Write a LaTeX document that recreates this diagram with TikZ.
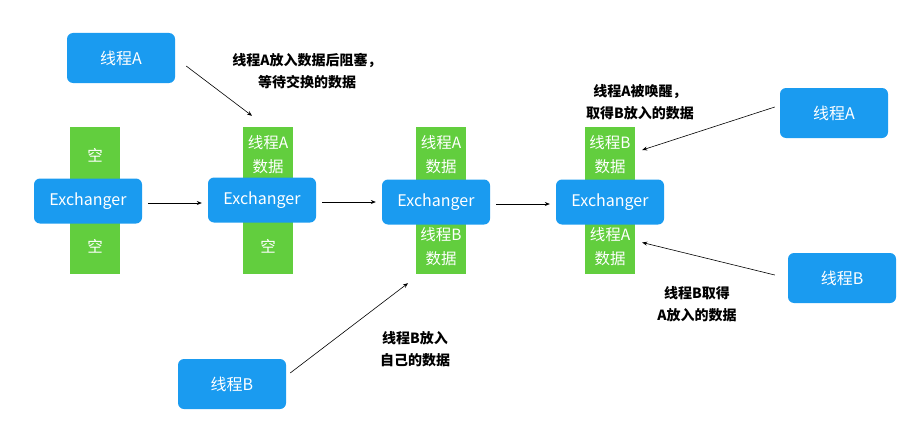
\documentclass[tikz,border=0pt]{standalone}
\usepackage{fontspec}
\newfontfamily\cjk{Noto Sans CJK SC}
\usetikzlibrary{arrows.meta}
\definecolor{myblue}{RGB}{26,155,240}
\definecolor{mygreen}{RGB}{98,206,62}
\begin{document}
\begin{tikzpicture}[x=1pt, y=-1pt,
        myexch/.style={shape=rectangle, rounded corners=6pt, fill=myblue, text=white,
            minimum width=108pt, minimum height=45pt, font=\cjk\fontsize{16}{18}\selectfont},
        mythread/.style={myexch, minimum height=50pt},
        mydata/.style={shape=rectangle, fill=mygreen, text=white, align=center,
            minimum width=50pt, minimum height=56pt, inner sep=0pt,
            font=\cjk\fontsize{15.5}{24}\selectfont},
        mynote/.style={align=center, font=\cjk\bfseries\fontsize{14}{22}\selectfont},
        myarrow/.style={-{Stealth[length=5pt,width=4pt]}, line width=0.6pt}
    ]
    \useasboundingbox (0,0) rectangle (915,428);
    % four exchangers with their slots
    \foreach \myx/\mydx/\myy/\mytop/\mybot [count=\myi] in
        {88/7/201/空/空, 262/6/200/{线程A\\数据}/空,
         436/5/202/{线程A\\数据}/{线程B\\数据}, 610/0/202/{线程B\\数据}/{线程A\\数据}} {
        \node [mydata] (dt\myi) at (\myx+\mydx,155) {\mytop};
        \node [mydata, minimum height=55pt] (db\myi) at (\myx+\mydx,246.5) {\mybot};
        \node [myexch] (ex\myi) at (\myx,\myy) {Exchanger};
    }
    \foreach \mya/\myb in {1/2,2/3,3/4} {
        \coordinate (st\mya) at ([xshift=6pt,yshift=-2pt]ex\mya.east);
        \draw [myarrow] (st\mya) -- ([xshift=-6pt]ex\myb.west |- st\mya);
    }
    % threads
    \node [mythread] (thA) at (121,58) {线程A};
    \node [mythread] (thB) at (232,384) {线程B};
    \node [mythread] (thA2) at (834,113) {线程A};
    \node [mythread] (thB2) at (842,278) {线程B};
    % notes
    \node [mynote] (noteA) at (307,71) {线程A放入数据后阻塞，\\等待交换的数据};
    \node [mynote] (noteB) at (415,349) {线程B放入\\自己的数据};
    \node [mynote] (noteA2) at (640,102) {线程A被唤醒，\\取得B放入的数据};
    \node [mynote] (noteB2) at (697,304) {线程B取得\\A放入的数据};
    \draw [myarrow] ([xshift=11pt,yshift=-8pt]thA.east) -- ([xshift=-16pt,yshift=11pt]dt2.north);
    \draw [myarrow] ([xshift=4pt,yshift=11pt]thB.east) -- ([xshift=-33pt,yshift=-9pt]db3.south);
    \draw [myarrow] ([xshift=-5pt,yshift=6pt]thA2.west) -- ([xshift=7pt,yshift=5pt]dt4.east);
    \draw [myarrow] ([xshift=-13pt,yshift=3pt]thB2.west) -- ([xshift=7pt,yshift=4pt]db4.east);
\end{tikzpicture}
\end{document}
